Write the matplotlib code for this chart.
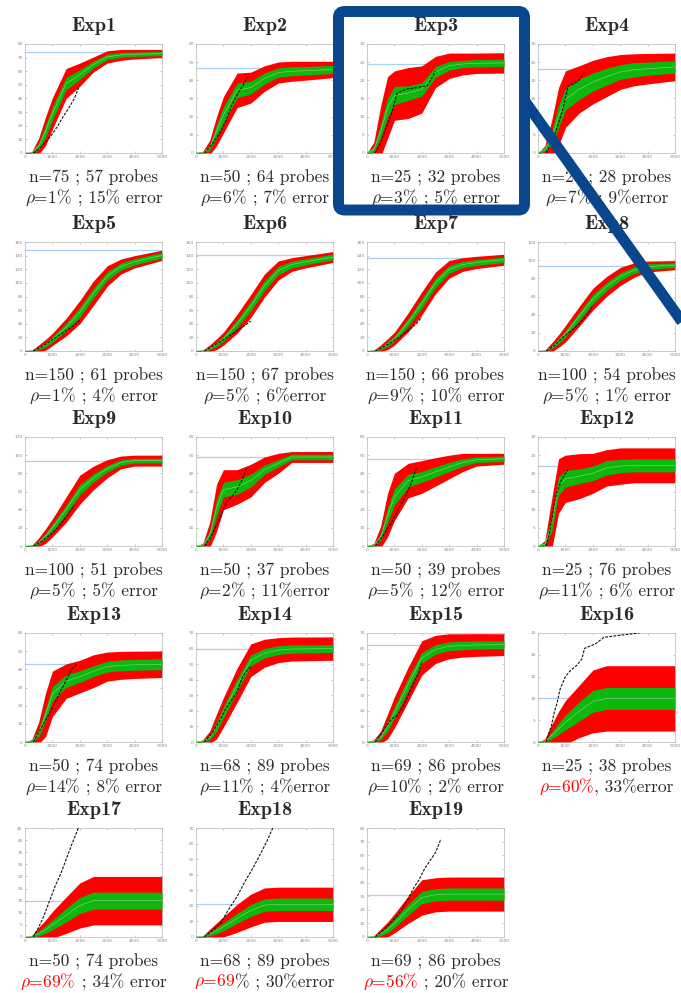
import numpy as np
import matplotlib
matplotlib.use("Agg")
import matplotlib.pyplot as plt
from matplotlib.patches import FancyBboxPatch
from matplotlib.lines import Line2D
from matplotlib.transforms import Affine2D

plt.rcParams['mathtext.fontset'] = 'cm'

# ---------------- data ----------------
TITLES = [f"Exp{i}" for i in range(1, 20)]
N_VALUES = [75, 50, 25, 25, 150, 150, 150, 100, 100, 50, 50, 25, 50, 68, 69, 25, 50, 68, 69]
N_PROBES = [57, 64, 32, 28, 61, 67, 66, 54, 51, 37, 39, 76, 74, 89, 86, 38, 74, 89, 86]
RHO_PART = ["1%", "6%", "3%", "7%", "1%", "5%", "9%", "5%", "5%", "2%", "5%", "11%",
            "14%", "11%", "10%", "60%", "69%", "69", "56%"]
REST_PART = [" ; 15% error", " ; 7% error", " ; 5% error", " ; 9%error", " ; 4% error",
             " ; 6%error", " ; 10% error", " ; 1% error", " ; 5% error", " ; 11%error",
             " ; 12% error", " ; 6% error", " ; 8% error", " ; 4%error", " ; 2% error",
             ", 33%error", " ; 34% error", "% ; 30%error", " ; 20% error"]
RHO_RED = [False] * 15 + [True] * 4

Y_MAX = [80, 60, 30, 30, 160, 160, 160, 120, 120, 60, 60, 30, 60, 70, 70, 25, 45, 70, 80]
Y_STEP = [10, 10, 5, 5, 20, 20, 20, 20, 20, 10, 10, 5, 10, 10, 10, 5, 5, 10, 10]
BLUE_LEVEL = [74, 47, 24.5, 23, 148, 141, 136, 94, 94, 49, 48, 22, 43, 60, 62, 10, 15, 21, 31]

KNOTS = [0, 250, 500, 750, 1000, 1500, 2000, 2500, 3000, 3500, 4000, 5000]

MEAN = [
    [0, 0.3, 5, 16, 29, 51, 57.5, 65, 70.5, 72, 72.5, 73],
    [0, 0.3, 3, 12, 21, 34.5, 36, 41, 44.3, 45, 45.3, 46],
    [0, 1, 6, 12.5, 15.8, 16.5, 17.5, 22.3, 24, 24.5, 24.7, 24.8],
    [0, 1, 4, 10, 14.8, 17.5, 19.5, 21, 22.3, 22.9, 23.2, 23.7],
    [0, 0.5, 4, 9, 17, 35, 57, 85, 110, 124, 131, 140.5],
    [0, 0.5, 4, 10, 18, 40, 66, 96, 118, 127, 131, 138],
    [0, 0.5, 4, 10, 18, 42, 70, 100, 120, 127, 130, 134],
    [0, 0.3, 4, 11, 19, 38, 57, 71, 82, 89, 93, 94.5],
    [0, 0.3, 4, 11, 20, 40, 62, 75, 85, 92, 94, 94],
    [0, 0.5, 6, 21, 31, 32.5, 36, 42, 45.5, 49, 49, 49],
    [0, 0.5, 5, 17, 27, 36, 38, 40.8, 43.5, 46, 47.5, 48],
    [0, 0.5, 6, 16.5, 18.5, 19.2, 20, 21.5, 22, 22.2, 22.2, 22.2],
    [0, 0.5, 5, 15, 26.5, 33.5, 36, 39, 41.5, 42.2, 42.5, 42.8],
    [0, 0.5, 3, 10, 19, 36.5, 52.5, 57, 59, 59.7, 59.8, 60],
    [0, 0.5, 3, 10, 19, 37, 54, 59.5, 61.5, 62, 62.3, 62.5],
    [0, 0.2, 1.5, 3, 4.5, 7, 9.3, 10, 10, 10, 10, 10],
    [0, 0.2, 1.5, 3, 5, 9, 13, 15, 15, 15, 15, 15],
    [0, 0.3, 2, 4, 6.5, 12, 17, 20.5, 21, 21, 21, 21],
    [0, 0.3, 2.5, 5.5, 10, 20, 29, 31, 31.5, 31.5, 31.5, 31.5],
]
RED_HW = [
    [0, 0.7, 6, 10.5, 11.5, 11, 8.5, 5.5, 4.5, 4, 3.5, 3],
    [0, 0.7, 4, 8, 10, 9.5, 8.5, 7, 5.8, 5.5, 5.2, 4.5],
    [0, 2, 7, 8.5, 6.8, 7, 6.5, 4.3, 3.5, 3, 2.8, 2.8],
    [0, 1, 5, 8, 7.8, 6.5, 6, 5.5, 4.8, 4.4, 4.2, 3.8],
    [0, 1, 5, 8, 9, 13, 17, 18, 15, 11, 9, 7.5],
    [0, 1, 5, 8, 9.5, 14, 17, 17, 14, 10, 9, 8],
    [0, 1, 5, 8, 9.5, 14, 17, 16, 13, 10, 9, 8],
    [0, 0.7, 5, 7, 9, 11, 12, 11, 10, 8, 6, 5],
    [0, 0.7, 5, 8, 10, 14, 16, 13, 10, 7, 6, 6],
    [0, 1, 7, 13, 11, 9.5, 9, 7, 5.5, 3, 3, 3],
    [0, 1, 6, 12, 13, 9.5, 9, 7.8, 6.5, 5, 3.5, 3],
    [0, 1, 7, 7.5, 6.5, 6.2, 5.5, 5, 5, 4.8, 4.8, 4.8],
    [0, 1, 6, 12, 12.5, 9.5, 9, 9, 8, 7.7, 7.5, 7.3],
    [0, 1, 4, 8, 9.5, 11, 10.5, 9, 8, 7.7, 7.6, 7.5],
    [0, 1, 4, 8, 10, 11, 11, 9, 8, 7.5, 7.3, 7],
    [0, 0.5, 2.5, 4, 5, 6, 7.2, 7.5, 7.5, 7.5, 7.5, 7.5],
    [0, 0.5, 2.5, 4, 5.5, 7.5, 9.3, 10, 10, 10, 10, 10],
    [0, 0.5, 3, 5, 6.5, 9, 10.5, 11, 11, 11, 11, 11],
    [0, 0.7, 3.5, 5.5, 7, 10, 13, 12.5, 12.5, 12.5, 12.5, 12.5],
]
GREEN_HW = [
    [0.5, 0.5, 2.5, 4.5, 5, 4.5, 3.5, 2.5, 2, 1.8, 1.6, 1.5],
    [0.4, 0.4, 1.5, 3.5, 4.5, 4, 3.5, 3, 2.5, 2.5, 2.3, 2.2],
    [0.3, 0.7, 2, 2.5, 2.5, 2, 1.8, 1.5, 1.2, 1, 1, 1],
    [0.3, 0.5, 2, 3, 3, 2.8, 2.5, 2.3, 2, 2, 1.8, 1.7],
    [0.8, 0.8, 2, 3.5, 4, 5.5, 7, 7, 6, 5, 4.5, 4],
    [0.8, 0.8, 2, 3.5, 4, 5.5, 7, 7, 6, 5, 4.5, 4],
    [0.8, 0.8, 2, 3.5, 4, 5.5, 7, 6.5, 5.5, 4.5, 4.2, 4],
    [0.6, 0.6, 1.5, 3, 3.5, 4.5, 5, 4.5, 4, 3.5, 3, 2.5],
    [0.6, 0.6, 1.5, 3, 4, 5, 5.5, 4.5, 3.5, 3, 2.5, 2.5],
    [0.4, 0.5, 2.5, 4.5, 4, 4, 3.5, 2.5, 2, 1.5, 1.5, 1.5],
    [0.4, 0.5, 2, 4, 4.5, 3.5, 3, 2.8, 2.5, 2, 1.5, 1.5],
    [0.3, 0.5, 2, 2.5, 2.3, 2, 2, 2, 1.8, 1.8, 1.8, 1.8],
    [0.4, 0.5, 2, 3.5, 4, 3.5, 3.2, 3, 3, 3, 3, 3],
    [0.5, 0.5, 1.5, 3, 3.5, 4, 3.5, 3, 2.8, 2.7, 2.6, 2.5],
    [0.5, 0.5, 1.5, 3, 3.5, 4, 3.5, 3, 2.8, 2.7, 2.6, 2.5],
    [0.2, 0.2, 0.8, 1.3, 1.7, 2.2, 2.5, 2.5, 2.5, 2.5, 2.5, 2.5],
    [0.3, 0.3, 1, 1.5, 2, 2.8, 3.3, 3.5, 3.5, 3.5, 3.5, 3.5],
    [0.5, 0.5, 1.2, 2, 2.5, 3.2, 3.8, 4, 4, 4, 4, 4],
    [0.6, 0.6, 1.5, 2.5, 3, 4, 4.5, 4.5, 4.5, 4.5, 4.5, 4.5],
]
PROBE_X = [
    [300, 500, 800, 1000, 1200, 1400, 1600, 1800, 2000],
    [300, 600, 900, 1100, 1300, 1500, 1700, 1900],
    [300, 500, 700, 900, 1100, 1400, 1800, 2200, 2500],
    [300, 500, 700, 900, 1100, 1300, 1500, 1700],
    [300, 600, 900, 1200, 1500, 1800, 2000],
    [300, 600, 900, 1200, 1500, 1800, 2000],
    [300, 600, 900, 1200, 1500, 1800, 2000],
    [300, 600, 900, 1200, 1500, 1800, 2000],
    [300, 600, 900, 1200, 1500, 1800],
    [300, 500, 700, 900, 1100, 1300, 1500, 1700, 1850],
    [300, 600, 900, 1200, 1400, 1600, 1800],
    [300, 400, 500, 600, 700, 850, 1000, 1100],
    [300, 600, 900, 1200, 1500, 1700, 1900],
    [300, 600, 900, 1100, 1300, 1500, 1700, 1900, 2000],
    [300, 500, 700, 900, 1100, 1300, 1500, 1700, 1900, 2000],
    [300, 400, 500, 600, 700, 800, 1000, 1200, 1400, 1600, 1700, 1900, 2100, 2400, 3000, 3700],
    [300, 500, 700, 900, 1100, 1300, 1500, 1700, 1950],
    [300, 600, 900, 1200, 1500, 1800, 2100, 2400, 2600, 2800],
    [300, 600, 900, 1200, 1500, 1700, 1900, 2100, 2300, 2500, 2700],
]
PROBE_Y = [
    [0, 3, 9, 14, 20, 27, 33, 40, 50],
    [0, 5, 12, 18, 26, 32, 37, 42],
    [0, 3, 7, 11, 16.5, 17.5, 18, 18.5, 22.5],
    [0, 3, 7, 12, 18.5, 19, 20, 22.5],
    [0, 6, 14, 22, 30, 38, 45],
    [0, 7, 14, 22, 30, 38, 44],
    [0, 6, 13, 21, 30, 40, 50],
    [0, 6, 15, 22, 30, 40, 50],
    [0, 5, 12, 20, 32, 45],
    [0, 4, 10, 16, 24, 27, 31, 37, 43],
    [0, 6, 13, 22, 27, 34, 43],
    [0, 3, 7, 12, 15, 18, 20, 21],
    [0, 8, 16, 25, 34, 40, 43],
    [0, 6, 15, 22, 27, 32, 42, 47, 48],
    [0, 5, 10, 15, 17, 22, 30, 38, 45, 52],
    [0, 2, 4, 7, 9, 12, 15, 16.5, 17.5, 19, 21.5, 22, 22.5, 24, 24.5, 25],
    [0, 4, 9, 15, 21, 26, 32, 38, 45],
    [0, 4, 9, 18, 26, 36, 45, 55, 62, 70],
    [0, 5, 11, 18, 28, 36, 42, 50, 56, 62, 72],
]

# ---------------- layout ----------------
W, H = 681, 993
COL_LEFT = [25, 196, 367, 538]
ROW_TOP = [44, 242, 437, 633, 828]
AXW, AXH = 137, 109

RED = '#FF0000'
GREEN = '#0DB80D'
TEXT_C = '#2A2A2A'
NAVY = '#0A468C'

fig = plt.figure(figsize=(W / 100, H / 100), dpi=100)
pix = Affine2D().scale(1 / 100) + fig.dpi_scale_trans  # pixel coords, origin bottom-left

texts_to_place = []
x = np.array(KNOTS, dtype=float)
for i in range(19):
    r, c = divmod(i, 4)
    left, top = COL_LEFT[c], ROW_TOP[r]
    ax = fig.add_axes([left / W, 1 - (top + AXH) / H, AXW / W, AXH / H])
    m = np.array(MEAN[i], float)
    rh = np.array(RED_HW[i], float)
    gh = np.array(GREEN_HW[i], float)
    ax.axhline(BLUE_LEVEL[i], color='#A9CFF2', lw=0.9, zorder=1)
    ax.fill_between(x, m - rh, m + rh, color=RED, lw=0, zorder=2)
    ax.fill_between(x, m - gh, m + gh, color=GREEN, lw=0, zorder=3)
    ax.plot(x, m, color='#9CCB9C', lw=0.4, zorder=4)
    ax.plot(PROBE_X[i], PROBE_Y[i], color='#111111', lw=0.8, ls=(0, (2.5, 1.2)), zorder=5)
    ax.set_xlim(0, 5000)
    ax.set_ylim(0, Y_MAX[i])
    ax.set_xticks(range(0, 5001, 1000))
    ax.set_yticks(np.arange(0, Y_MAX[i] + 0.1, Y_STEP[i]))
    ax.tick_params(direction='in', length=1.5, width=0.4, colors='#A0A0A0',
                   labelcolor='#888888', labelsize=3.2, pad=1.5, top=True, right=True)
    for s in ax.spines.values():
        s.set_color('#B8B8B8')
        s.set_linewidth(0.5)

    cx = left + AXW / 2
    fig.text(cx, H - (top - 18), TITLES[i], transform=pix, ha='center', va='center',
             family='cmb10', fontsize=14.5, color=TEXT_C)
    fig.text(cx, H - (top + AXH + 25), f"n={N_VALUES[i]} ; {N_PROBES[i]} probes",
             transform=pix, ha='center', va='center', family='cmr10', fontsize=12.5,
             color=TEXT_C)
    t1 = fig.text(0, H - (top + AXH + 45), r"$\rho$=" + RHO_PART[i], transform=pix,
                  ha='left', va='center', family='cmr10', fontsize=12.5,
                  color=RED if RHO_RED[i] else TEXT_C)
    t2 = fig.text(0, H - (top + AXH + 45), REST_PART[i], transform=pix,
                  ha='left', va='center', family='cmr10', fontsize=12.5, color=TEXT_C)
    texts_to_place.append((cx, t1, t2))

fig.canvas.draw()
renderer = fig.canvas.get_renderer()
scale = 100 / fig.dpi
for cx, t1, t2 in texts_to_place:
    w1 = t1.get_window_extent(renderer).width * scale
    w2 = t2.get_window_extent(renderer).width * scale
    x0 = cx - (w1 + w2) / 2
    y0 = t1.get_position()[1]
    t1.set_position((x0, y0))
    t2.set_position((x0 + w1, y0))

# highlight box and pointer line
box = FancyBboxPatch((338.5, H - 210), 186, 198.5,
                     boxstyle='round,pad=0,rounding_size=6', transform=pix,
                     fill=False, edgecolor=NAVY, linewidth=7.9, zorder=20)
fig.add_artist(box)
fig.add_artist(Line2D([524, 700], [H - 100, H - 347], transform=pix, color=NAVY,
                      lw=7.9, solid_capstyle='butt', zorder=20))

fig.savefig('out.png', dpi=100)
